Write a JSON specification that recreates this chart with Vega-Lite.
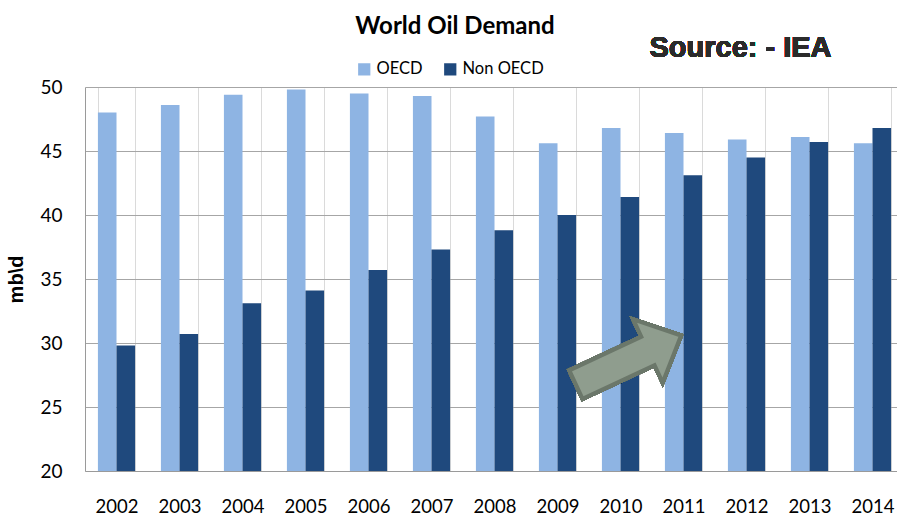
{
  "$schema": "https://vega.github.io/schema/vega-lite/v6.json",
  "width": 812,
  "height": 384,
  "autosize": "none",
  "padding": {"left": 85, "top": 87, "right": 0, "bottom": 47},
  "background": "white",
  "config": {"view": {"stroke": null}, "font": "Lato"},
  "title": {
    "text": "World Oil Demand",
    "font": "Lato",
    "fontSize": 24,
    "fontWeight": "bold",
    "color": "black",
    "anchor": "middle",
    "frame": "group",
    "dx": -36,
    "offset": -5
  },
  "data": {
    "values": [
      {"year": "2002", "series": "OECD", "value": 48.0},
      {"year": "2003", "series": "OECD", "value": 48.6},
      {"year": "2004", "series": "OECD", "value": 49.4},
      {"year": "2005", "series": "OECD", "value": 49.8},
      {"year": "2006", "series": "OECD", "value": 49.5},
      {"year": "2007", "series": "OECD", "value": 49.3},
      {"year": "2008", "series": "OECD", "value": 47.7},
      {"year": "2009", "series": "OECD", "value": 45.6},
      {"year": "2010", "series": "OECD", "value": 46.8},
      {"year": "2011", "series": "OECD", "value": 46.4},
      {"year": "2012", "series": "OECD", "value": 45.9},
      {"year": "2013", "series": "OECD", "value": 46.1},
      {"year": "2014", "series": "OECD", "value": 45.6},
      {"year": "2002", "series": "Non OECD", "value": 29.8},
      {"year": "2003", "series": "Non OECD", "value": 30.7},
      {"year": "2004", "series": "Non OECD", "value": 33.1},
      {"year": "2005", "series": "Non OECD", "value": 34.1},
      {"year": "2006", "series": "Non OECD", "value": 35.7},
      {"year": "2007", "series": "Non OECD", "value": 37.3},
      {"year": "2008", "series": "Non OECD", "value": 38.8},
      {"year": "2009", "series": "Non OECD", "value": 40.0},
      {"year": "2010", "series": "Non OECD", "value": 41.4},
      {"year": "2011", "series": "Non OECD", "value": 43.1},
      {"year": "2012", "series": "Non OECD", "value": 44.5},
      {"year": "2013", "series": "Non OECD", "value": 45.7},
      {"year": "2014", "series": "Non OECD", "value": 46.8}
    ]
  },
  "layer": [
    {
      "mark": {"type": "bar"},
      "encoding": {
        "x": {
          "field": "year",
          "type": "nominal",
          "scale": {"range": [0, 819], "paddingInner": 0.41, "paddingOuter": 0.205},
          "axis": {
            "title": null,
            "labelAngle": 0,
            "tickBand": "extent",
            "grid": true,
            "gridColor": "#dadada",
            "ticks": false,
            "domainColor": "#9a9a9a",
            "labelPadding": 26,
            "labelFont": "Lato",
            "labelFontSize": 18.5,
            "labelColor": "black"
          }
        },
        "xOffset": {"field": "series", "sort": ["OECD", "Non OECD"], "scale": {"paddingInner": 0}},
        "y": {
          "field": "value",
          "type": "quantitative",
          "scale": {"domain": [20, 50], "zero": false, "nice": false},
          "axis": {
            "values": [20, 25, 30, 35, 40, 45, 50],
            "grid": true,
            "gridColor": "#a6a6a6",
            "domainColor": "#9a9a9a",
            "ticks": false,
            "labelPadding": 23,
            "labelFont": "Lato",
            "labelFontSize": 19,
            "labelColor": "black",
            "title": "mb\\d",
            "titleFont": "Liberation Sans",
            "titleFontSize": 20,
            "titleFontWeight": "bold",
            "titleColor": "black",
            "titlePadding": 13
          }
        },
        "y2": {"datum": 20},
        "color": {
          "field": "series",
          "type": "nominal",
          "sort": ["OECD", "Non OECD"],
          "scale": {"domain": ["OECD", "Non OECD"], "range": ["#8EB4E3", "#1F497D"]},
          "legend": {
            "title": null,
            "orient": "none",
            "direction": "horizontal",
            "legendX": 271,
            "legendY": -26,
            "padding": 0,
            "symbolType": "square",
            "symbolSize": 150,
            "symbolStrokeWidth": 0,
            "symbolOpacity": 1,
            "labelFont": "Lato",
            "labelFontSize": 16.5,
            "labelColor": "black",
            "labelOffset": 4,
            "columnPadding": 19
          }
        }
      }
    },
    {
      "mark": {
        "type": "point",
        "shape": "M-1,-0.27 L0.37,-0.27 L0.37,-0.6 L1,0 L0.37,0.6 L0.37,0.27 L-1,0.27 Z",
        "size": 13456,
        "angle": 335,
        "filled": true,
        "fill": "#8f9d8e",
        "stroke": "#6b776a",
        "strokeWidth": 4,
        "opacity": 1,
        "xOffset": 8
      },
      "encoding": {"x": {"datum": "2010"}, "y": {"datum": 28.67}}
    },
    {
      "mark": {
        "type": "text",
        "text": "Source: - IEA",
        "font": "Liberation Sans",
        "fontWeight": "bold",
        "fontSize": 29,
        "color": "#2b2b2b",
        "baseline": "alphabetic",
        "align": "center",
        "dx": -6
      },
      "encoding": {"x": {"datum": "2012"}, "y": {"datum": 52.34}}
    }
  ]
}
